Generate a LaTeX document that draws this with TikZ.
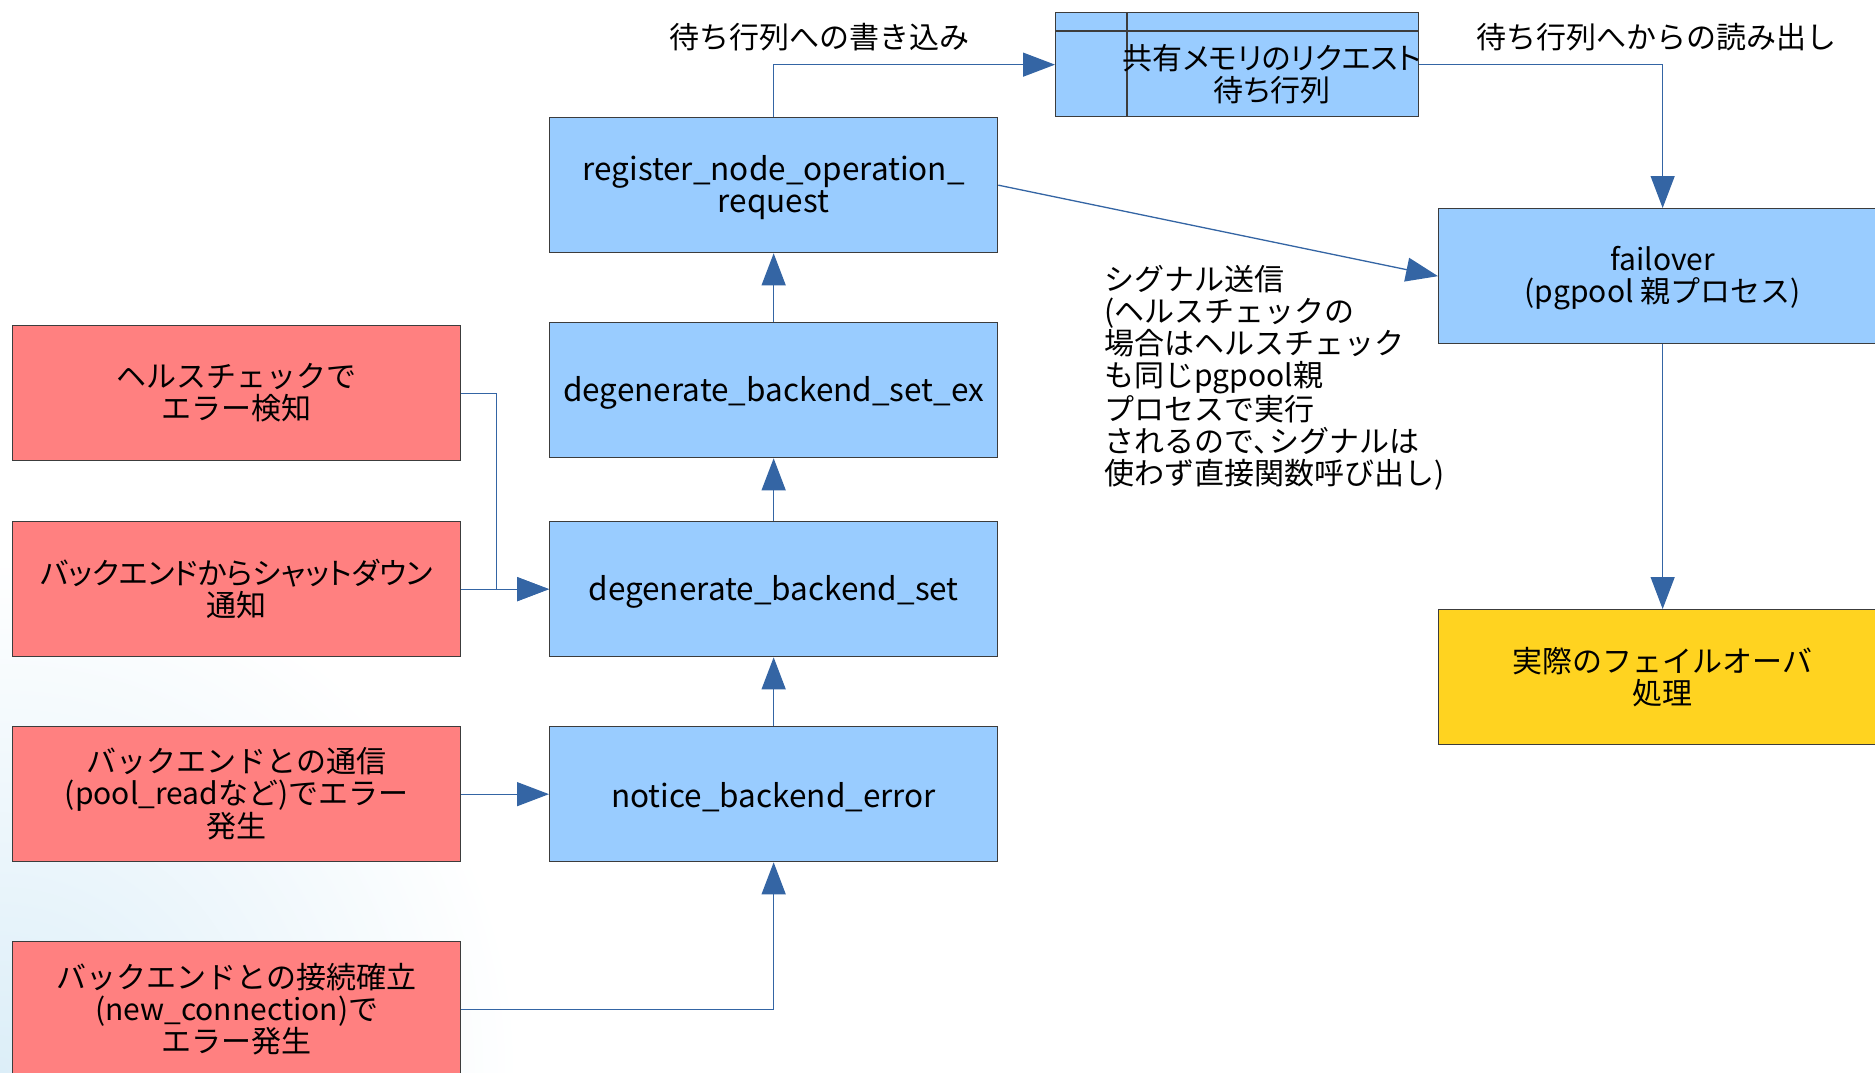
\documentclass[tikz,border=0pt]{standalone}
\usepackage{fontspec}
\setmainfont{Noto Sans CJK JP}
\newfontfamily\cjkprop[RawFeature=+palt]{Noto Sans CJK JP}
\usetikzlibrary{arrows.meta}
\definecolor{boxblue}{HTML}{99CCFF}
\definecolor{boxred}{HTML}{FF8080}
\definecolor{boxyellow}{HTML}{FFD320}
\definecolor{arrblue}{HTML}{3465A4}
\definecolor{edgegray}{HTML}{3C3C3C}
\definecolor{bgtint}{HTML}{DCEEF8}
\newcommand{\tallstrut}[1]{\rule{0pt}{#1}}
\begin{document}
\begin{tikzpicture}[x=1pt,y=-1pt,
  font=\fontsize{30}{32}\selectfont,
  box/.style={draw=edgegray, line width=1.3pt, minimum width=448pt, minimum height=135pt,
    inner sep=0pt, align=center, anchor=north west},
  bluebox/.style={box, fill=boxblue},
  latinbox/.style={bluebox, font=\fontsize{31.5}{32}\selectfont},
  redbox/.style={box, fill=boxred},
  yelbox/.style={box, fill=boxyellow},
  conn/.style={draw=arrblue, line width=1.3pt, -{Triangle[length=32pt,width=24pt]}},
  lbl/.style={inner sep=0pt}]
\useasboundingbox (0,0) rectangle (1875,1072);
\clip (0,0) rectangle (1875,1072);
\fill[white] (0,0) rectangle (1875,1072);
\shade[inner color=bgtint, outer color=white] (0,1072) circle (520);

% blue column
\node[latinbox] (reg) at (549,117) {\tallstrut{30.5pt}register\_node\_operation\_\\request};
\node[latinbox] (dex) at (549,322) {\tallstrut{30.5pt}degenerate\_backend\_set\_ex};
\node[latinbox] (dset) at (549,521) {\tallstrut{30.5pt}degenerate\_backend\_set};
\node[latinbox] (notice) at (549,726) {\tallstrut{30.5pt}notice\_backend\_error};

% red column
\node[redbox] (r1) at (12,325) {ヘルスチェックで\\エラー検知};
\node[redbox] (r2) at (12,521) {{\cjkprop バックエンドからシャットダウン}\\通知};
\node[redbox] (r3) at (12,726) {バックエンドとの通信\\(pool\_readなど)でエラー\\発生};
\node[redbox] (r4) at (12,941) {バックエンドとの接続確立\\(new\_connection)で\\エラー発生};

% right column
\node[bluebox] (fail) at (1438,208) {\tallstrut{27.5pt}failover\\(pgpool 親プロセス)};
\node[yelbox] (yel) at (1438,609) {実際のフェイルオーバ\\処理};

% queue
\node[draw=edgegray, line width=1.3pt, fill=boxblue, minimum width=363pt, minimum height=104pt,
  inner sep=0pt, anchor=north west] (queue) at (1055,12) {};
\draw[edgegray, line width=1.3pt] (1055,31) -- (1418,31) (1127,12) -- (1127,116);
\node[lbl, align=center, font=\fontsize{30}{32}\cjkprop] (qtext) at (1272,74) {共有メモリのリクエスト\\待ち行列};

% labels
\node[lbl] (wlabel) at (819,37) {待ち行列への書き込み};
\node[lbl] (rlabel) at (1656,37) {待ち行列へからの読み出し};
\node[lbl, anchor=north west, align=left] (sig) at (1104,265)
  {シグナル送信\\(ヘルスチェックの\\場合はヘルスチェック\\も同じpgpool親\\プロセスで実行\\されるので{\cjkprop 、}シグナルは\\使わず直接関数呼び出し)};

% connectors
\draw[conn] (reg.north) |- (queue.west);
\draw[conn] (queue.east) -| (fail.north);
\draw[conn] (reg.east) -- (fail.west);
\draw[conn] (fail.south) -- (yel.north);
\draw[conn] (notice.north) -- (dset.south);
\draw[conn] (dset.north) -- (dex.south);
\draw[conn] (dex.north) -- (reg.south);
\draw[conn] (r1.east) -- ++(35,0) |- (dset.west);
\draw[conn] (r2.east) -- (dset.west);
\draw[conn] (r3.east) -- (notice.west);
\draw[conn] (r4.east) -| (notice.south);
\end{tikzpicture}
\end{document}
